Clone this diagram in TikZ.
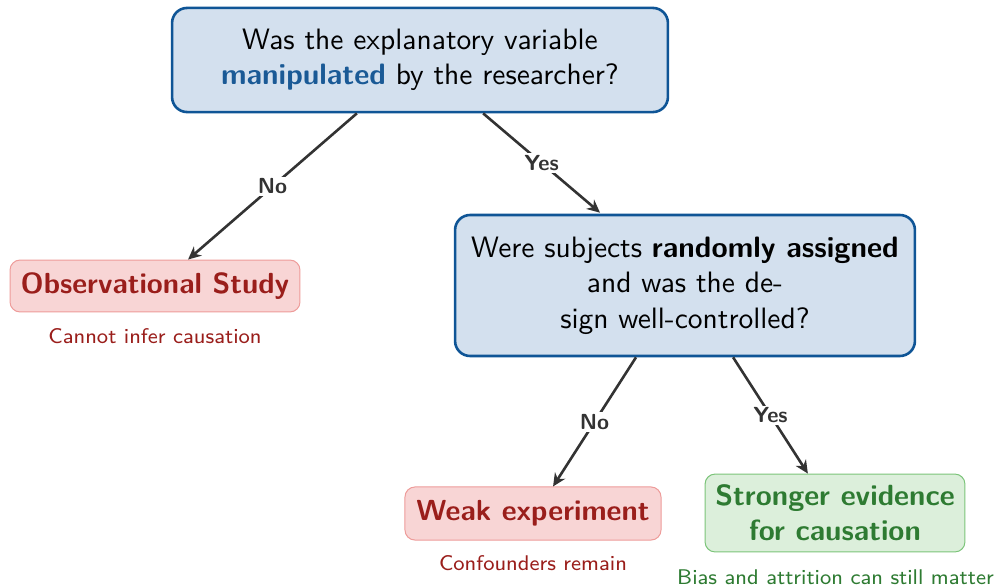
\documentclass[tikz,border=0pt]{standalone}
\usepackage{fontspec}
\usetikzlibrary{arrows.meta}
\renewcommand{\familydefault}{\sfdefault}
\definecolor{qfill}{HTML}{D3E0EE}
\definecolor{qborder}{HTML}{0F5596}
\definecolor{qtext}{HTML}{1A5A96}
\definecolor{rfill}{HTML}{F8D5D5}
\definecolor{rborder}{HTML}{EE9C9A}
\definecolor{rtext}{HTML}{9A1E1B}
\definecolor{gfill}{HTML}{DCEFDB}
\definecolor{gborder}{HTML}{7CC47A}
\definecolor{gtext}{HTML}{2E7B32}
\definecolor{arr}{HTML}{333333}
\tikzset{
  qbox/.style={draw=qborder, fill=qfill, line width=0.88pt, rounded corners=5.1pt,
    align=center, inner sep=0pt, font=\fontsize{10}{12}\selectfont},
  redbox/.style={draw=rborder, fill=rfill, line width=0.34pt, rounded corners=3.4pt,
    align=center, inner sep=0pt, text=rtext, font=\fontsize{9.85}{11.9}\selectfont\bfseries},
  greenbox/.style={draw=gborder, fill=gfill, line width=0.34pt, rounded corners=3.4pt,
    align=center, inner sep=0pt, text=gtext, font=\fontsize{9.9}{11.9}\selectfont\bfseries},
  note/.style={inner sep=0pt, font=\fontsize{7.2}{9}\selectfont},
  conn/.style={draw=arr, line width=0.88pt, -{Stealth[length=4.4pt,width=4.1pt,inset=1.4pt]}},
  lab/.style={fill=white, inner sep=0.7pt, text=arr, font=\fontsize{7.4}{8.5}\selectfont\bfseries}
}
\begin{document}
\begin{tikzpicture}[x=0.339pt,y=-0.339pt]
\useasboundingbox (0,0) rectangle (995,588);
\node[qbox, minimum width=168.1pt, minimum height=35.3pt] (q1) at (420,60)
  {Was the explanatory variable\\ \textcolor{qtext}{\textbf{manipulated}} by the researcher?};
\node[qbox, minimum width=155.9pt, minimum height=47.8pt] (q2) at (685,285.5)
  {Were subjects \textbf{randomly assigned}\\ and was the de-\\ sign well-controlled?};
\node[redbox, minimum width=98.3pt, minimum height=17.6pt] (obs) at (155,286) {Observational Study};
\node[redbox, minimum width=86.8pt, minimum height=18pt] (weak) at (533,513.5) {Weak experiment};
\node[greenbox, minimum width=88.1pt, minimum height=26.4pt] (strong) at (835,513) {Stronger evidence\\ for causation};
\node[note, text=rtext] (obsnote) at (155,336) {Cannot infer causation};
\node[note, text=rtext] (weaknote) at (533,563) {Confounders remain};
\node[note, text=gtext] (strongnote) at (835.5,577) {Bias and attrition can still matter};
\draw[conn] ([xshift=-21.4pt]q1.south) -- node[lab, pos=0.5] {No} ([xshift=11.2pt]obs.north);
\draw[conn] ([xshift=21.4pt]q1.south) -- node[lab, pos=0.5] {Yes} ([xshift=-28.8pt,yshift=0.34pt]q2.north);
\draw[conn] ([xshift=-16.6pt]q2.south) -- node[lab, pos=0.5] {No} ([xshift=6.8pt]weak.north);
\draw[conn] ([xshift=16.3pt]q2.south) -- node[lab, pos=0.5] {Yes} ([xshift=-9.2pt]strong.north);
\end{tikzpicture}
\end{document}
